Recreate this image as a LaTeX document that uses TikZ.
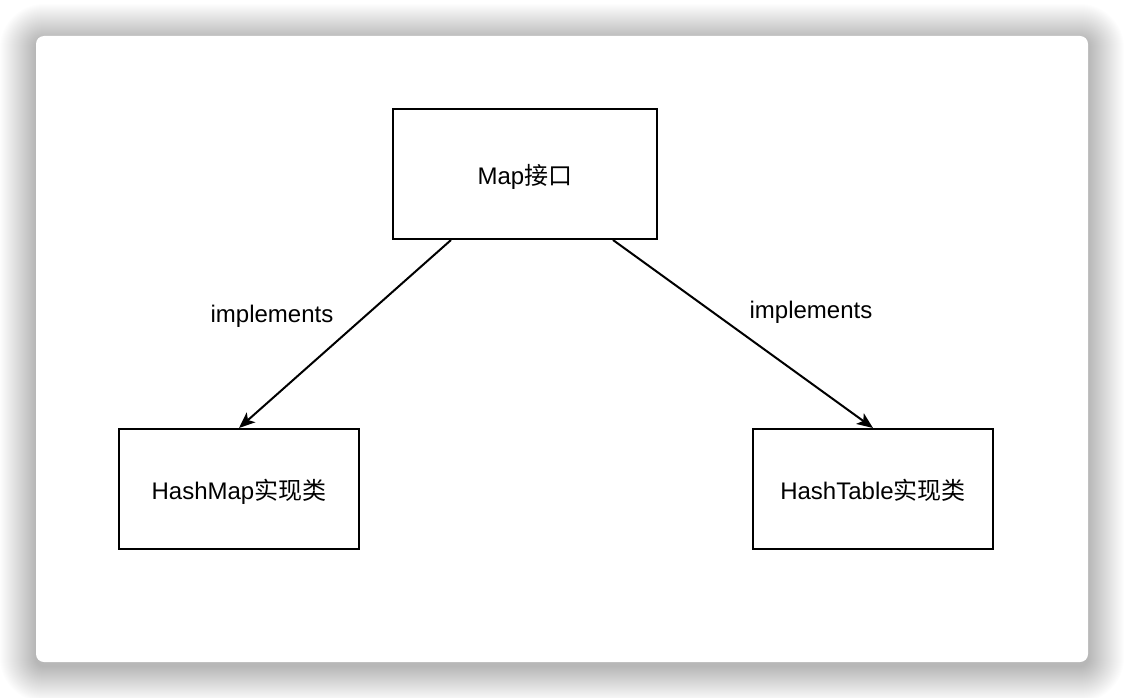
\documentclass[tikz,border=0pt]{standalone}
\usepackage{fontspec}
\setmainfont{Liberation Sans}
\newfontfamily\cjk{Noto Sans CJK SC}
\usetikzlibrary{arrows.meta}
\tikzset{
  classbox/.style={draw=black,line width=2pt,minimum width=240pt,minimum height=120pt,inner sep=0pt,text height=20pt,text depth=0pt,font=\fontsize{24}{28}\selectfont},
  implarrow/.style={draw=black,line width=2pt,-{Stealth[length=16pt,width=13pt,inset=4pt]}},
  impllabel/.style={font=\fontsize{24}{28}\selectfont,inner sep=0pt,anchor=base}
}
\begin{document}
\begin{tikzpicture}[x=1pt,y=-1pt]
\useasboundingbox (0,0) rectangle (1124,698);
\fill[white] (0,0) rectangle (1124,698);
% shadow of the card
\foreach \i in {1,...,36}{
  \fill[black,opacity=0.0062,rounded corners=8pt+\i pt] (36-\i,36-\i+4) rectangle (1088+\i,662+\i+4);
}
\fill[white,rounded corners=8pt] (36,36) rectangle (1088,662);
% boxes
\node[classbox,minimum width=264pt,minimum height=130pt] (map) at (525,174) {Map{\cjk 接口}};
\node[classbox] (hashmap) at (239,489) {HashMap{\cjk 实现类}};
\node[classbox] (hashtable) at (873,489) {HashTable{\cjk 实现类}};
% arrows
\draw[implarrow] ([xshift=59pt]map.south west) -- (hashmap.north);
\draw[implarrow] ([xshift=221pt]map.south west) -- (hashtable.north);
\node[impllabel] (leftlbl) at (272,322) {implements};
\node[impllabel] (rightlbl) at (811,318) {implements};
\end{tikzpicture}
\end{document}
